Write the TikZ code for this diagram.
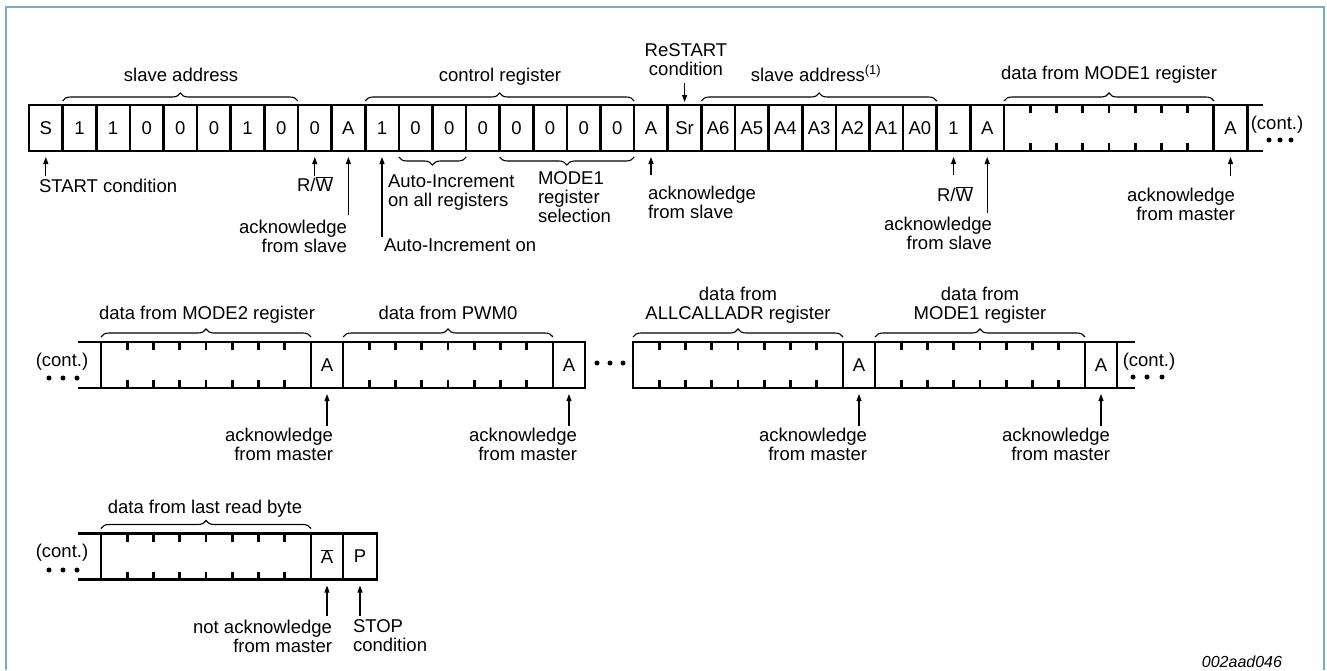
\documentclass[tikz,border=0pt]{standalone}
\usepackage{fontspec}
\setmainfont{Liberation Sans}
\usetikzlibrary{arrows.meta,decorations.pathreplacing,calc}
\definecolor{framecol}{RGB}{115,175,195}
\tikzset{
  cell/.style={draw, line width=2.6pt, minimum width=33.62pt, minimum height=46pt, inner sep=0pt, outer sep=0pt},
  bytebox/.style={cell, minimum width=210pt},
  acell/.style={cell, minimum width=32pt},
  tickmark/.style={line width=2.6pt},
  bus/.style={line width=2.6pt},
  arr/.style={line width=1.1pt, -{Triangle[length=7pt,width=5pt]}, shorten >=6pt},
  brc/.style={line width=1.1pt, decorate, decoration={brace, amplitude=8pt}},
  brcm/.style={line width=1.1pt, decorate, decoration={brace, mirror, amplitude=8pt}},
  lbl/.style={inner sep=0pt, outer sep=0pt},
  dotmark/.style={circle, fill, inner sep=0pt, minimum size=5pt},
}
\begin{document}
\begin{tikzpicture}[x=1pt, y=-1pt, font=\fontsize{18.5}{19}\selectfont]
\useasboundingbox (0,0) rectangle (1327,670);
\draw[framecol, line width=1.3pt] (6,670) -- (6,7) -- (1324,7) -- (1324,670);

% ---------------- Row 1 ----------------
\foreach \t [count=\i] in {S,1,1,0,0,0,1,0,0,A,1,0,0,0,0,0,0,0,A,Sr,A6,A5,A4,A3,A2,A1,A0,1,A}
  \node[cell] (c\i) at ({29+33.62*(\i-0.5)},128) {\t};
\node[bytebox] (d1) at (1109,128) {};
\node[cell] (m1) at (1230.5,128) {A};
\draw[bus] (m1.north east) -- ++(16,0);
\draw[bus] (m1.south east) -- ++(16,0);
\node[lbl] (cont1) at (1277,125) {(cont.)};
\node[dotmark] (e1) at (1269,140) {};
\node[dotmark] (e2) at (1280,140) {};
\node[dotmark] (e3) at (1291,140) {};

% braces above row 1
\draw[brc] ([yshift=4pt]c2.north west) -- ([yshift=4pt]c8.north east);
\node[lbl, anchor=base] (l1) at (181,81) {slave address};
\draw[brc] ([yshift=4pt]c11.north west) -- ([yshift=4pt]c18.north east);
\node[lbl, anchor=base] (l2) at (500,81) {control register};
\draw[brc] ([yshift=4pt]c21.north west) -- ([yshift=4pt]c27.north east);
\node[lbl, anchor=base] (l3) at (816,81) {slave address\textsuperscript{(1)}};
\draw[brc] ([yshift=4pt]d1.north west) -- ([yshift=4pt]d1.north east);
\node[lbl, anchor=base] (l4) at (1109,79) {data from MODE1 register};
\node[lbl, anchor=north, align=center] (l5) at (686,44) {ReSTART\\condition};
\coordinate (rs) at ($(c20.north)+(0,-22)$);
\draw[arr, shorten >=3pt] (rs) -- (c20.north);

% braces below row 1
\draw[brcm] ([yshift=-6pt]c12.south west) -- ([yshift=-6pt]c13.south east);
\node[lbl, anchor=north west, align=left] (l6) at (388,175) {Auto-Increment\\on all registers};
\draw[brcm] ([yshift=-6pt]c15.south west) -- ([yshift=-6pt]c18.south east);
\node[lbl, anchor=north west, align=left] (l7) at (538,172) {MODE1\\register\\selection};

% arrows below row 1
\coordinate (t1) at ($(c1.south)+(0,25)$);
\draw[arr] (t1) -- (c1.south);
\node[lbl, anchor=base west] (l8) at (39,192) {START condition};
\coordinate (t9) at ($(c9.south)+(0,25)$);
\draw[arr] (t9) -- (c9.south);
\node[lbl, anchor=base east] (l9) at (333,191) {R/$\overline{\hbox{W}}$};
\coordinate (t10) at ($(c10.south)+(0,64)$);
\draw[arr] (t10) -- (c10.south);
\node[lbl, anchor=north east, align=right] (l10) at (347,220) {acknowledge\\from slave};
\coordinate (t11) at ($(c11.south)+(0,86)$);
\draw[arr] (t11) -- (c11.south);
\node[lbl, anchor=base west] (l11) at (384,251) {Auto-Increment on};
\coordinate (t19) at ($(c19.south)+(0,24)$);
\draw[arr] (t19) -- (c19.south);
\node[lbl, anchor=north west, align=left] (l12) at (648,186) {acknowledge\\from slave};
\coordinate (t28) at ($(c28.south)+(0,24)$);
\draw[arr] (t28) -- (c28.south);
\node[lbl, anchor=base] (l13) at (955,201) {R/$\overline{\hbox{W}}$};
\coordinate (t29) at ($(c29.south)+(0,62)$);
\draw[arr] (t29) -- (c29.south);
\node[lbl, anchor=north east, align=right] (l14) at (992,217) {acknowledge\\from slave};
\coordinate (tm1) at ($(m1.south)+(0,25)$);
\draw[arr] (tm1) -- (m1.south);
\node[lbl, anchor=north east, align=right] (l15) at (1235,188) {acknowledge\\from master};

% ---------------- Row 2 ----------------
\node[bytebox] (b21) at (206,365) {};
\node[acell] (a21) at (327,365) {A};
\node[bytebox] (b22) at (448,365) {};
\node[acell] (a22) at (569,365) {A};
\node[bytebox] (b23) at (738,365) {};
\node[acell] (a23) at (859,365) {A};
\node[bytebox] (b24) at (980,365) {};
\node[acell] (a24) at (1101,365) {A};
\draw[bus] (b21.north west) -- ++(-23,0);
\draw[bus] (b21.south west) -- ++(-23,0);
\draw[bus] (a24.north east) -- ++(18,0);
\draw[bus] (a24.south east) -- ++(18,0);
\node[lbl] (cont2) at (62,362) {(cont.)};
\node[dotmark] (f1) at (49,378) {};
\node[dotmark] (f2) at (63,378) {};
\node[dotmark] (f3) at (77,378) {};
\node[dotmark] (g1) at (597,363) {};
\node[dotmark] (g2) at (610,363) {};
\node[dotmark] (g3) at (623,363) {};
\node[lbl] (cont3) at (1149,362) {(cont.)};
\node[dotmark] (h1) at (1133,377) {};
\node[dotmark] (h2) at (1147,377) {};
\node[dotmark] (h3) at (1162,377) {};

\draw[brc] ([yshift=5pt]b21.north west) -- ([yshift=5pt]b21.north east);
\node[lbl, anchor=base] (r1) at (207,319) {data from MODE2 register};
\draw[brc] ([yshift=5pt]b22.north west) -- ([yshift=5pt]b22.north east);
\node[lbl, anchor=base] (r2) at (448,319) {data from PWM0};
\draw[brc] ([yshift=5pt]b23.north west) -- ([yshift=5pt]b23.north east);
\node[lbl, anchor=north, align=center] (r3) at (738,287) {data from\\ALLCALLADR register};
\draw[brc] ([yshift=5pt]b24.north west) -- ([yshift=5pt]b24.north east);
\node[lbl, anchor=north, align=center] (r4) at (980,287) {data from\\MODE1 register};

\foreach \n/\rx in {a21/333,a22/577,a23/867,a24/1110} {
  \coordinate (t\n) at ($(\n.south)+(0,38)$);
  \draw[arr] (t\n) -- (\n.south);
  \node[lbl, anchor=north east, align=right] (k\n) at (\rx,428) {acknowledge\\from master};
}

% ---------------- Row 3 ----------------
\node[bytebox] (b31) at (206,556.5) {};
\node[acell] (na) at (327,556.5) {$\overline{\hbox{A}}$};
\node[cell, minimum width=34pt] (pp) at (360,556.5) {P};
\draw[bus] (b31.north west) -- ++(-23,0);
\draw[bus] (b31.south west) -- ++(-23,0);
\node[lbl] (cont4) at (62,553) {(cont.)};
\node[dotmark] (j1) at (49,570) {};
\node[dotmark] (j2) at (63,570) {};
\node[dotmark] (j3) at (77,570) {};
\draw[brc] ([yshift=5pt]b31.north west) -- ([yshift=5pt]b31.north east);
\node[lbl, anchor=base] (s1) at (205,513) {data from last read byte};
\coordinate (tna) at ($(na.south)+(0,36)$);
\draw[arr] (tna) -- (na.south);
\node[lbl, anchor=north east, align=right] (s2) at (332,620) {not acknowledge\\from master};
\coordinate (tpp) at ($(pp.south)+(0,36)$);
\draw[arr] (tpp) -- (pp.south);
\node[lbl, anchor=north west, align=left] (s3) at (353,620) {STOP\\condition};

% ticks on data bytes
\foreach \n in {d1,b21,b22,b23,b24,b31} {
  \foreach \k in {1,...,7} {
    \draw[tickmark] ($(\n.north west)!\k/8!(\n.north east)$) -- ++(0,8);
    \draw[tickmark] ($(\n.south west)!\k/8!(\n.south east)$) -- ++(0,-8);
  }
}

\node[lbl, anchor=base east, font=\fontsize{16}{16}\selectfont\itshape] (id) at (1282,667) {002aad046};
\end{tikzpicture}
\end{document}
